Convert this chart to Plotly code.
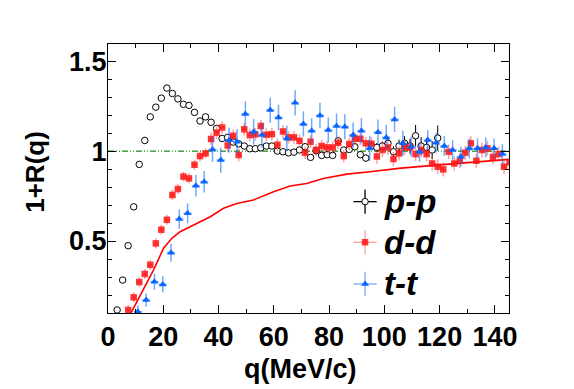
import plotly.graph_objects as go

# p-p correlation (open circles)
pp_q = [3.3, 5.3, 7.3, 9.3, 11.3, 13.3, 15.3, 17.3, 19.3, 21.3, 23.3, 25.3, 27.3, 29.3,
        31.3, 33.3, 35.3, 37.3, 39.3, 41.3, 43.3, 45.3, 47.3, 49.3, 51.3, 53.3, 55.3,
        57.3, 59.3, 61.3, 63.3, 65.3, 67.3, 69.3, 71.3, 73.3, 75.3, 77.3, 79.3, 81.3,
        83.3, 85.3, 87.3, 89.3, 91.3, 93.3, 95.3, 97.3, 99.3, 101.3, 103.3, 105.3,
        107.3, 109.3, 111.3, 113.3, 115.3, 117.3, 119.3]
pp_r = [0.117, 0.283, 0.474, 0.69, 0.926, 1.059, 1.19, 1.244, 1.294, 1.35, 1.32, 1.29,
        1.26, 1.254, 1.215, 1.167, 1.19, 1.16, 1.126, 1.07, 1.076, 1.05, 1.04, 1.028,
        1.013, 1.013, 1.018, 1.028, 1.028, 1.0, 0.996, 0.99, 0.994, 1.006, 1.024, 0.965,
        1.002, 0.976, 0.98, 0.976, 1.057, 1.006, 1.009, 1.024, 0.98, 0.961, 1.028, 1.02,
        1.028, 1.043, 0.996, 1.028, 1.043, 1.028, 1.085, 1.028, 1.02, 1.006, 1.072]
pp_err = [0.01] * 30 + [0.015] * 15 + [0.02, 0.02, 0.025, 0.025, 0.03, 0.03, 0.035,
                                       0.04, 0.04, 0.06, 0.05, 0.05, 0.05, 0.07]

# d-d correlation (full squares)
dd_q = [7.3, 9.3, 11.3, 13.3, 15.3, 17.3, 19.3, 21.3, 23.3, 25.3, 27.3, 29.3, 31.3,
        33.3, 35.3, 37.3, 39.3, 41.3, 43.3, 45.3, 47.3, 49.3, 51.3, 53.3, 55.3, 57.3,
        59.3, 61.3, 63.3, 65.3, 67.3, 69.3, 71.3, 73.3, 75.3, 77.3, 79.3, 81.3, 83.3,
        85.3, 87.3, 89.3, 91.3, 93.3, 95.3, 97.3, 99.3, 101.3, 103.3, 105.3, 107.3,
        109.3, 111.3, 113.3, 115.3, 117.3, 119.3, 121.3, 123.3, 125.3, 127.3, 129.3,
        131.3, 133.3, 135.3, 137.3, 139.3, 141.3, 143.3, 145.3]
dd_r = [0.117, 0.187, 0.272, 0.317, 0.368, 0.487, 0.563, 0.618, 0.756, 0.789, 0.858,
        0.848, 0.924, 0.972, 0.987, 1.067, 1.102, 1.131, 1.031, 1.085, 0.978, 1.121,
        1.089, 1.093, 1.139, 1.091, 1.094, 1.035, 1.109, 1.076, 1.076, 1.057, 0.991,
        1.052, 1.006, 1.028, 1.02, 1.02, 1.046, 0.972, 1.039, 1.068, 1.068, 1.043,
        1.041, 0.970, 1.006, 1.02, 0.956, 0.987, 1.02, 1.02, 0.983, 1.006, 0.983,
        0.931, 0.913, 0.898, 0.996, 0.931, 0.946, 0.991, 1.043, 0.946, 1.006, 1.015,
        0.967, 0.983, 0.913, 0.937]
dd_err = [0.028] * 15 + [0.035] * 30 + [0.04] * 25

# t-t correlation (full triangles)
tt_q = [10.8, 13.8, 16.8, 19.8, 22.8, 25.8, 28.8, 31.8, 34.8, 37.8, 40.8, 43.8, 46.7,
        49.7, 52.7, 55.7, 58.7, 61.7, 64.7, 67.7, 70.7, 73.7, 76.7, 79.7, 82.7, 85.7,
        88.7, 91.7, 94.7, 97.7, 100.7, 103.7, 106.7, 109.7, 112.7, 115.7, 118.7, 121.7,
        124.7, 127.7, 130.7, 133.7, 136.7, 139.7, 142.7]
tt_r = [0.107, 0.172, 0.274, 0.259, 0.435, 0.622, 0.654, 0.807, 0.829, 1.009, 0.95,
        1.06, 1.052, 1.206, 1.107, 1.089, 1.228, 1.187, 1.07, 1.268, 1.15, 1.113, 1.198,
        1.117, 1.139, 1.135, 1.089, 1.113, 1.015, 1.105, 1.076, 1.176, 1.043, 1.024,
        0.996, 1.061, 1.046, 1.028, 1.006, 0.969, 1.015, 1.015, 1.02, 1.015, 0.983]
tt_err = [0.035, 0.037, 0.045, 0.045, 0.05, 0.053, 0.055, 0.06, 0.06] + [0.07] * 24 + [0.055] * 12

# model curve (red line)
calc_q = [8.3, 12.9, 16.5, 20.1, 23.1, 26.1, 32.2, 37.0, 41.8, 46.6, 52.6, 59.9, 65.9,
          71.9, 77.9, 86.4, 94.8, 106, 118.9, 132, 145]
calc_r = [0.10, 0.23, 0.34, 0.46, 0.515, 0.552, 0.598, 0.635, 0.682, 0.709, 0.728,
          0.774, 0.806, 0.82, 0.848, 0.872, 0.885, 0.905, 0.922, 0.94, 0.954]

unity_q = [0, 145]
unity_r = [1, 1]

BLACK = "black"
RED = "rgba(255,20,20,0.85)"
RED_BAR = "rgba(255,40,40,0.45)"
BLUE = "rgb(10,100,255)"
BLUE_BAR = "rgba(20,110,255,0.6)"

FONT = "Liberation Sans"

fig = go.Figure()

fig.add_trace(go.Scatter(x=unity_q, y=unity_r, mode="lines",
                         line=dict(color="#1a8a1a", width=1.3,
                                   dash="6px,2px,1px,2px,1px,2px"),
                         showlegend=False))
fig.add_trace(go.Scatter(x=calc_q, y=calc_r, mode="lines",
                         line=dict(color="red", width=1.6),
                         showlegend=False))

fig.add_trace(go.Scatter(
    x=pp_q, y=pp_r, mode="markers",
    marker=dict(symbol="circle", size=6.5, color="white", line=dict(color=BLACK, width=1)),
    error_y=dict(type="data", array=pp_err, color=BLACK, thickness=1, width=0),
    error_x=dict(type="constant", value=1, color=BLACK, thickness=1, width=0),
    showlegend=False))
fig.add_trace(go.Scatter(
    x=dd_q, y=dd_r, mode="markers",
    marker=dict(symbol="square", size=6.5, color=RED),
    error_y=dict(type="data", array=dd_err, color=RED_BAR, thickness=1.5, width=0),
    error_x=dict(type="constant", value=1, color=RED_BAR, thickness=1.5, width=0),
    showlegend=False))
fig.add_trace(go.Scatter(
    x=tt_q, y=tt_r, mode="markers",
    marker=dict(symbol="triangle-up", size=7, color=BLUE),
    error_y=dict(type="data", array=tt_err, color=BLUE_BAR, thickness=1.5, width=0),
    error_x=dict(type="constant", value=1.5, color=BLUE_BAR, thickness=1.5, width=0),
    showlegend=False))

# legend drawn inside the frame: glyph with cross, then label
leg_x = 0.641
leg_y = [0.414, 0.263, 0.108]
leg_names = ["p-p", "d-d", "t-t"]
leg_marks = [
    dict(symbol="circle", size=6.5, color="white", line=dict(color=BLACK, width=1)),
    dict(symbol="square", size=6.5, color=RED),
    dict(symbol="triangle-up", size=7, color=BLUE),
]
leg_bars = [BLACK, RED_BAR, BLUE_BAR]
for yy, mk, bc, name in zip(leg_y, leg_marks, leg_bars, leg_names):
    fig.add_trace(go.Scatter(
        x=[leg_x], y=[yy], xaxis="x2", yaxis="y2", mode="markers", marker=mk,
        error_x=dict(type="constant", value=0.029, color=bc, thickness=1.3, width=0),
        error_y=dict(type="constant", value=0.045, color=bc, thickness=1.3, width=0),
        showlegend=False, hoverinfo="skip"))
    fig.add_annotation(x=0.684, y=yy, xref="paper", yref="paper", text=name,
                       showarrow=False, xanchor="left", yanchor="middle",
                       font=dict(family=FONT, size=33, color="black",
                                 weight="bold", style="italic"))

fig.add_annotation(x=0.481, y=-0.208, xref="paper", yref="paper", text="q(MeV/c)",
                   showarrow=False, xanchor="center", yanchor="middle",
                   font=dict(family=FONT, size=27, color="black", weight="bold"))
fig.add_annotation(x=-0.182, y=0.525, xref="paper", yref="paper", text="1+R(q)",
                   showarrow=False, textangle=-90, xanchor="center", yanchor="middle",
                   font=dict(family=FONT, size=26, color="black", weight="bold"))

tick_font = dict(family=FONT, size=27, color="black", weight="bold")

# the page body adds an 8px offset, so the margins are trimmed by that much
fig.update_layout(
    width=574, height=389,
    margin=dict(l=100, r=73, t=36, b=84),
    paper_bgcolor="white", plot_bgcolor="white",
    xaxis=dict(range=[0, 145.1], tick0=0, dtick=20, ticks="inside", ticklen=8,
               tickwidth=1, tickcolor="black", showline=True, linecolor="black",
               linewidth=1, mirror="ticks", showgrid=False, zeroline=False,
               tickfont=tick_font,
               minor=dict(tick0=0, dtick=10, ticks="inside", ticklen=4,
                          tickcolor="black", showgrid=False)),
    yaxis=dict(range=[0.1, 1.595], tickmode="array", tickvals=[0.5, 1, 1.5],
               ticktext=["0.5", "1", "1.5"], ticks="inside", ticklen=8, tickwidth=1,
               tickcolor="black", showline=True, linecolor="black", linewidth=1,
               mirror="ticks", showgrid=False, zeroline=False, tickfont=tick_font,
               ticklabelstandoff=-5,
               minor=dict(tickmode="linear", tick0=0, dtick=0.1, ticks="inside",
                          ticklen=4, tickcolor="black", showgrid=False)),
    xaxis2=dict(overlaying="x", range=[0, 1], visible=False, anchor="y2"),
    yaxis2=dict(overlaying="y", range=[0, 1], visible=False, anchor="x2"),
)

fig.write_html("out.html")
